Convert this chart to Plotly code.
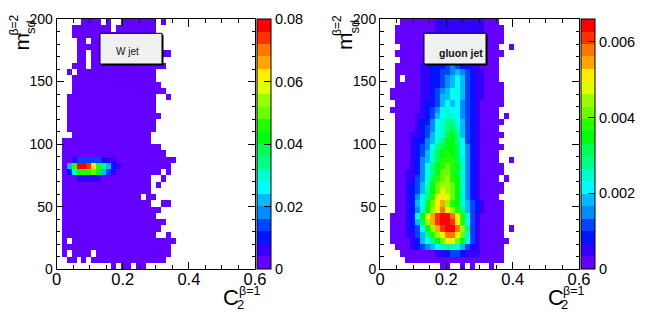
import colorsys
import plotly.graph_objects as go

# ---------------- data ----------------
W_ZMAX = 0.08          # top of the W-jet colour axis
G_ZMAX = 0.0066        # top of the gluon-jet colour axis
N_LEVELS = 20          # number of colour contours
N_XBINS = 40           # C2 bins over [0, 0.6]
N_YBINS = 40           # m_sd bins over [0, 200]
X_BIN_WIDTH = 0.015
Y_BIN_WIDTH = 5.0

x_ticks = [0, 0.2, 0.4, 0.6]
x_tick_labels = ["0", "0.2", "0.4", "0.6"]
y_ticks = [0, 50, 100, 150, 200]
y_tick_labels = ["0", "50", "100", "150", "200"]
w_cb_ticks = [0, 0.02, 0.04, 0.06, 0.08]
w_cb_labels = ["0", "0.02", "0.04", "0.06", "0.08"]
g_cb_ticks = [0, 0.002, 0.004, 0.006]
g_cb_labels = ["0", "0.002", "0.004", "0.006"]

# Bin contents as colour-contour level per bin ('.' = empty, 0-9 then a-j = 10-19).
# One string per m_sd row, from the top row (195-200) down to the bottom row (0-5);
# character i is the C2 bin i (width 0.015).
w_rows = [
    ".....0000.0..0000000.0",
    "...00000000.00000000",
    "...00000000000000000",
    "....00.0000000000000",
    "....0000000000000000",
    "....00.0000000000000.00",
    "....00.0000000000000",
    "...000.000000000000000",
    "..0.0000000000000000",
    "...00000000000000000",
    "...000000000000000000",
    "...0000000000000000000",
    "..000000000000000000..0",
    "..000000000000000000",
    "..000000000000000000",
    "..0000000000000000000",
    "..000000000000000000",
    "..000000000000000000",
    "...0000000000000000",
    ".000000000000000000",
    ".00000000000000000000",
    ".000000000000000000000",
    ".00133333211000000000000",
    ".05bjjifb85210000000000",
    ".027abbca531000000000.0",
    ".000111110000000000..0",
    ".000000000000000000.0",
    ".000000000000000000",
    ".0000000000000000.00",
    ".000000000000000000..00",
    ".00000000000000000000",
    ".0000000000000000000",
    ".000000000000000000000",
    ".00000000000000000000",
    ".0000000000000000000..0",
    ".0.000000000000000000000",
    ".0000000000000000000000",
    ".0.0000.000000000000000",
    "..00.0.000000000000000",
    "...........0.00.00",
]

g_rows = [
    "....00000001111111111000",
    "...0000000011111111110000",
    "...0000001111111111110000",
    "...0000001111111111110000",
    "....00000111111111111000..0",
    "...0000001111111111110000",
    "....00000111122221111000",
    "...000001122234322110000",
    "...000001122334543211000",
    "...0.0001122345653211000",
    "...0000011223456532110000",
    "..00000011234567532110000",
    "..00000011235566532110000",
    "...0000012235656432100000",
    "..0000001234676643210000",
    "...000011235677643210000.0",
    "...0000122467886532100000",
    "...000012346789753210000",
    "...00011235679a8532100000",
    "...0001224578aa863210000",
    "...0001234689aa9642100000",
    "...000123579aba964210000",
    "...000124579bbb974210000..0",
    "...00012468abcba742100000",
    "...00112468accb9742100000",
    "...00113479bcdba74210000.0",
    "...0012357acddca742100000",
    "...0012358acedca742100000",
    "...0012468befeca74210000",
    "...001256acfgdba753210000",
    "...001247adfhfdb853210000",
    "..000126aegijjhfb73100000",
    "..0001259dgijjifb63100000",
    "..0001236adgijjhd83100000.0",
    "..00011358bdfhhfc73100000",
    "..000012568acffca631000000",
    "...0001234567877532100000",
    "....000000011233211100000",
    ".....00000000000000000000",
    "............00..0.0...0",
]


def decode(rows, zmax):
    grid = []
    for s in reversed(rows):
        s = s.ljust(N_XBINS, ".")
        row = []
        for ch in s[:N_XBINS]:
            if ch == ".":
                row.append(None)
            else:
                lvl = int(ch, 36)
                row.append((lvl + 0.5) * zmax / N_LEVELS)
        grid.append(row)
    return grid


def root_palette():
    cols = []
    for k in range(N_LEVELS):
        idx = int((k + 0.99) * 50 / N_LEVELS)
        hue = 280 - (idx + 1) * 280 / 50
        r, g, b = colorsys.hls_to_rgb(hue / 360, 0.5, 1.0)
        cols.append(f"rgb({round(r*255)},{round(g*255)},{round(b*255)})")
    scale = []
    for k, c in enumerate(cols):
        scale.append([k / N_LEVELS, c])
        scale.append([(k + 1) / N_LEVELS, c])
    return scale


# ---------------- geometry (pixels) ----------------
W, H = 648, 313
TOP, BOTTOM = 19, 269.3
PANELS = [(56.7, 255.0), (380.0, 579.0)]
CB_X = [257.0, 580.7]
CB_W = 13.5
FONT = "Liberation Sans, Arial, Helvetica, sans-serif"


def px(x):
    return x / W


def py(y):
    return 1 - y / H


x_centers = [(i + 0.5) * X_BIN_WIDTH for i in range(N_XBINS)]
y_centers = [(j + 0.5) * Y_BIN_WIDTH for j in range(N_YBINS)]
scale = root_palette()

fig = go.Figure()
datasets = [
    (w_rows, W_ZMAX, w_cb_ticks, w_cb_labels),
    (g_rows, G_ZMAX, g_cb_ticks, g_cb_labels),
]
for i, (rows, zmax, cbt, cbl) in enumerate(datasets):
    suffix = "" if i == 0 else "2"
    fig.add_trace(go.Heatmap(
        x=x_centers, y=y_centers, z=decode(rows, zmax),
        zmin=0, zmax=zmax, colorscale=scale,
        xaxis="x" + suffix, yaxis="y" + suffix,
        hoverongaps=False,
        colorbar=dict(
            x=px(CB_X[i]), xanchor="left", xref="paper",
            y=py((TOP + BOTTOM) / 2), yanchor="middle", yref="paper",
            len=(BOTTOM - TOP) / H, lenmode="fraction",
            thickness=CB_W, thicknessmode="pixels",
            outlinewidth=1, outlinecolor="black",
            tickmode="array", tickvals=cbt, ticktext=cbl,
            ticks="inside", ticklen=7, tickcolor="black", tickwidth=1,
            tickfont=dict(family=FONT, size=14.5, color="black"),
            xpad=0, ypad=0,
        ),
    ))

axis_common = dict(
    showgrid=False, zeroline=False, showline=True, linecolor="black",
    linewidth=1, mirror="allticks", ticks="inside", tickcolor="black",
    tickwidth=1,
)
layout = dict(
    width=W, height=H, margin=dict(l=0, r=0, t=0, b=0, autoexpand=False),
    paper_bgcolor="white", plot_bgcolor="white", showlegend=False,
)
for i, (x0, x1) in enumerate(PANELS):
    suffix = "" if i == 0 else "2"
    layout["xaxis" + suffix] = dict(
        axis_common, domain=[px(x0), px(x1)], range=[0, 0.6],
        anchor="y" + suffix, tickmode="array", tickvals=x_ticks,
        ticktext=x_tick_labels, ticklen=7.5, ticklabelstandoff=-5,
        tickfont=dict(family=FONT, size=16.5, color="black"),
        minor=dict(dtick=0.05, tick0=0, ticklen=4, ticks="inside",
                   tickcolor="black", tickwidth=1),
    )
    layout["yaxis" + suffix] = dict(
        axis_common, domain=[py(BOTTOM), py(TOP)], range=[0, 200],
        anchor="x" + suffix, tickmode="array", tickvals=y_ticks,
        ticktext=y_tick_labels, ticklen=7,
        tickfont=dict(family=FONT, size=14, color="black"),
        minor=dict(dtick=10, tick0=0, ticklen=3.5, ticks="inside",
                   tickcolor="black", tickwidth=1),
    )
fig.update_layout(**layout)

# label boxes
boxes = [((100, 33.3, 162, 64), "W jet", (127, 52), False),
         ((424, 33.3, 486, 64), "gluon jet", (461, 53), True)]
for (bx0, by0, bx1, by1), label, (tx, ty), bold in boxes:
    fig.add_shape(type="rect", xref="paper", yref="paper",
                  x0=px(bx0 + 1.5), x1=px(bx1 + 1.5), y0=py(by1 + 1.5), y1=py(by0 + 1.5),
                  fillcolor="black", line=dict(width=0))
    fig.add_shape(type="rect", xref="paper", yref="paper",
                  x0=px(bx0), x1=px(bx1), y0=py(by1), y1=py(by0),
                  fillcolor="#f0f0f0", line=dict(color="black", width=1))
    fig.add_annotation(xref="paper", yref="paper", x=px(tx), y=py(ty),
                       text=f"<b>{label}</b>" if bold else label, showarrow=False,
                       xanchor="center", yanchor="middle",
                       font=dict(family=FONT, size=10.5 if bold else 10, color="#111"))

# axis titles
for i, (x0, x1) in enumerate(PANELS):
    xo = x1 - 255.0
    yo = 0 if i == 0 else 323.5
    texts = [
        ("C", 231.5 + xo, 297.5, 22, 0),
        ("2", 240.5 + xo, 304.0, 13, 0),
        ("β=1", 249.5 + xo, 290.5, 12.5, 0),
        ("m", 21.0 + yo, 41.5, 21, -90),
        ("sd", 30.0 + yo, 27.0, 13, -90),
        ("β=2", 13.0 + yo, 25.5, 12, -90),
    ]
    for t, tx, ty, size, ang in texts:
        fig.add_annotation(xref="paper", yref="paper", x=px(tx), y=py(ty),
                           text=t, showarrow=False, textangle=ang,
                           xanchor="center", yanchor="middle",
                           font=dict(family=FONT, size=size, color="black"))

fig.write_html(
    "out.html",
    config={"displayModeBar": False},
    post_script="document.body.style.margin='0';document.body.style.overflow='hidden';",
)
